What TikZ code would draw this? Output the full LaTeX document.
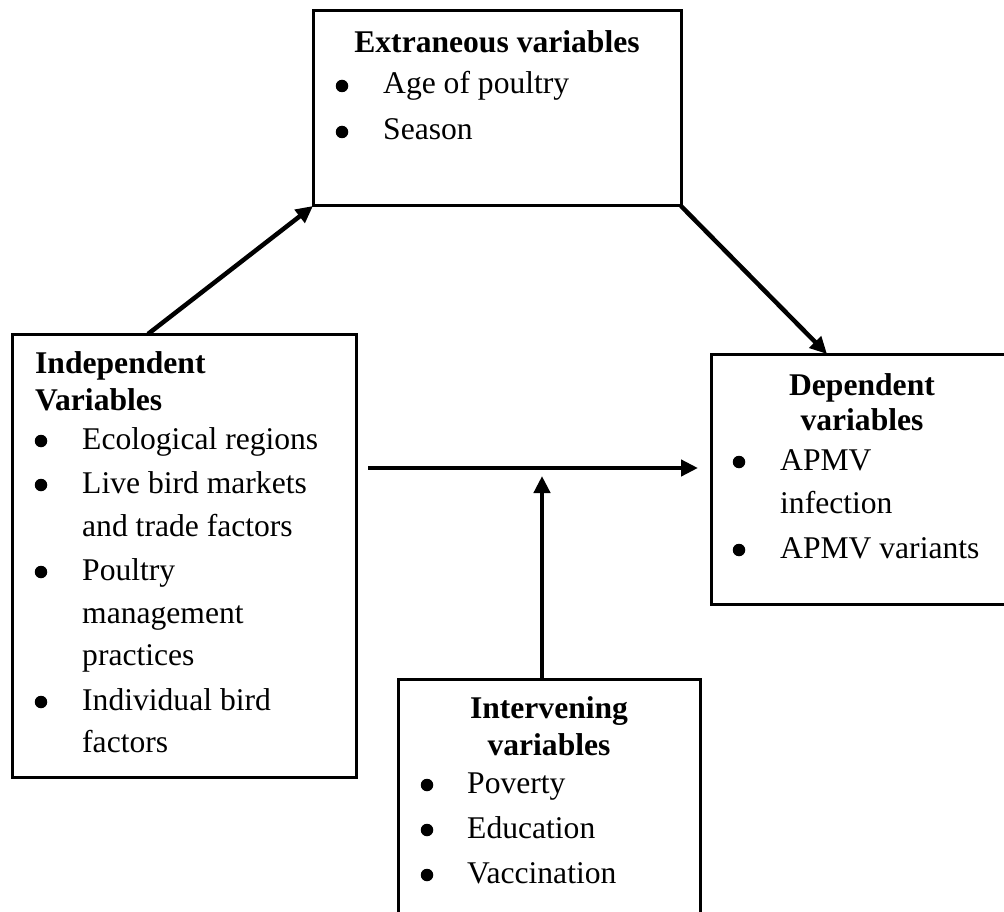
\documentclass[tikz,border=0pt]{standalone}
\usepackage{fontspec}
\setmainfont{Liberation Serif}
\usetikzlibrary{arrows.meta,calc}

\tikzset{
    box/.style={draw, line width=3pt, anchor=north west, inner sep=0pt, outer sep=0pt},
    head/.style={font=\fontsize{31.6}{38}\selectfont\bfseries, anchor=base, inner sep=0pt},
    entry/.style={anchor=base west, inner sep=0pt},
    dot/.style={circle, fill, inner sep=0pt, minimum size=12.5pt},
    link/.style={line width=4.5pt, -{Triangle[length=17pt, width=16pt]}}
}

\begin{document}
\begin{tikzpicture}[x=1pt, y=-1pt, font=\fontsize{31.6}{38}\selectfont]
            \useasboundingbox (0,0) rectangle (1004,912);
            \clip (0,0) rectangle (1004,912);

            % the four boxes
            \node[box, minimum width=368pt, minimum height=195pt] (ext) at (313,11) {};
            \node[box, minimum width=344pt, minimum height=443pt] (ind) at (12,334) {};
            \node[box, minimum width=302pt, minimum height=250pt] (dep) at (711,354) {};
            \node[box, minimum width=302pt, minimum height=260pt] (int) at (398,679) {};

            % extraneous variables
            \node[head] (ext-h) at (497,53) {Extraneous variables};
            \foreach \y/\t in {94/Age of poultry, 140/Season}{
                \node[dot] (extb-\y) at (342,\y-8) {};
                \node[entry] (ext-\y) at (383,\y) {\t};
            }

            % independent variables
            \node[head, anchor=base west] (ind-h1) at (35,373) {Independent};
            \node[head, anchor=base west] (ind-h2) at (35,410) {Variables};
            \foreach \y/\t/\b in {449/Ecological regions/1, 493/Live bird markets/1, 536/and trade factors/0,
                    580/Poultry/1, 623/management/0, 665/practices/0, 710/Individual bird/1, 752/factors/0}{
                \ifnum\b=1 \node[dot] (indb-\y) at (41,\y-8) {}; \fi
                \node[entry] (ind-\y) at (82,\y) {\t};
            }

            % dependent variables
            \node[head] (dep-h1) at (862,395) {Dependent};
            \node[head] (dep-h2) at (862,430) {variables};
            \foreach \y/\t/\b in {470/APMV/1, 513/infection/0, 558/APMV variants/1}{
                \ifnum\b=1 \node[dot] (depb-\y) at (739,\y-8) {}; \fi
                \node[entry] (dep-\y) at (780,\y) {\t};
            }

            % intervening variables
            \node[head] (int-h1) at (549,718) {Intervening};
            \node[head] (int-h2) at (549,755) {variables};
            \foreach \y/\t in {793/Poverty, 838/Education, 883/Vaccination}{
                \node[dot] (intb-\y) at (427,\y-8) {};
                \node[entry] (int-\y) at (467,\y) {\t};
            }

            % connectors
            \coordinate (hstart) at (368,468);
            \coordinate (hend) at (698,468);
            \coordinate (vtip) at (542,476);
            \draw[link] ($(ind.north west)+(136,0)$) -- (ext.south west);
            \draw[link] (ext.south east) -- ($(dep.north west)+(116,0)$);
            \draw[link] (hstart) -- (hend);
            \draw[link] (int.north -| vtip) -- (vtip);
        \end{tikzpicture}
\end{document}
